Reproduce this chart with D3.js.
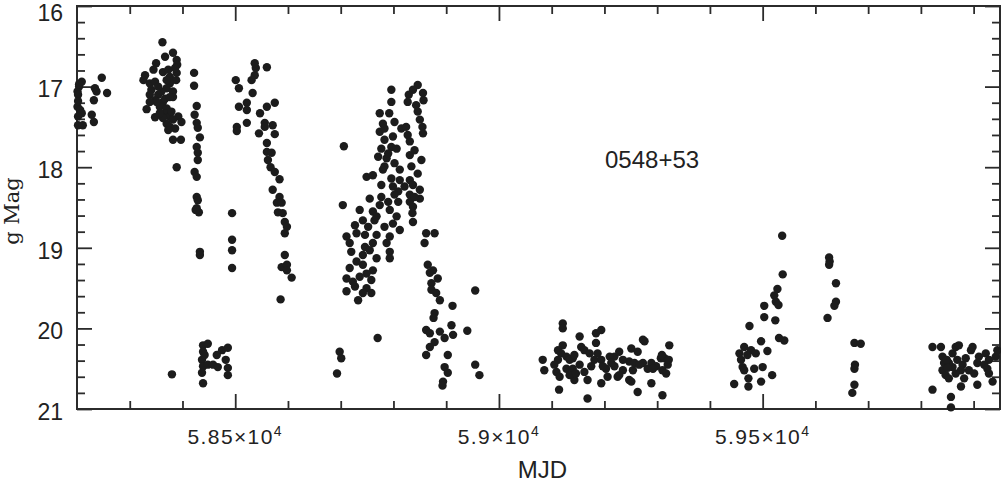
<!DOCTYPE html>
<html>
<head>
<meta charset="utf-8">
<script src="https://cdn.jsdelivr.net/npm/d3@7"></script>
<style>
  body { margin: 0; background: #fff; }
  svg { display: block; }
</style>
</head>
<body>
<div id="chart"></div>
<script>
// light curve of 0548+53, g band, grouped by observing season: [MJD, g mag]
const season1 = [[58209,16.94],[58204,17.00],[58201,17.06],[58202,17.10],[58201,17.25],[58206,17.29],[58209,17.33],[58202,17.37],[58202,17.48],[58211,17.48],[58228,17.35],[58232,17.44],[58234,17.02],[58237,17.06],[58232,17.17],[58247,16.89],[58257,17.08],[58204,16.97],[58202,17.18]];

const season2 = [[58362,16.45],[58367,16.63],[58382,16.58],[58389,16.67],[58390,16.73],[58350,16.71],[58345,16.79],[58363,16.82],[58329,16.86],[58326,16.92],[58338,16.96],[58348,16.94],[58376,16.88],[58389,16.83],[58388,16.92],[58376,16.96],[58370,17.02],[58341,17.04],[58338,17.10],[58354,17.10],[58382,17.06],[58382,17.13],[58348,17.17],[58363,17.19],[58332,17.28],[58357,17.25],[58370,17.27],[58348,17.38],[58367,17.33],[58376,17.37],[58392,17.37],[58398,17.44],[58370,17.46],[58376,17.50],[58386,17.52],[58373,17.54],[58382,17.66],[58397,17.66],[58389,18.00],[58382,17.41],[58363,17.39],[58360,17.06],[58373,16.79],[58386,16.77],[58354,17.00],[58367,17.15],
  [58351,17.19],[58376,17.13],[58370,16.92],[58379,17.31],[58357,17.33],[58338,17.19],
  [58422,16.83],[58422,16.99],[58427,17.24],[58423,17.35],[58427,17.45],[58429,17.51],[58433,17.63],[58427,17.75],[58429,17.82],[58429,17.91],[58423,18.06],[58427,18.12],[58427,18.37],[58429,18.41],[58427,18.51],[58431,18.56],[58425,18.53],[58433,19.05],[58433,19.09],
  [58439,20.21],[58439,20.29],[58437,20.39],[58439,20.47],[58437,20.55],[58439,20.68],[58448,20.19],[58442,20.33],[58448,20.45],[58458,20.45],[58467,20.48],[58465,20.33],[58475,20.27],[58486,20.24],[58482,20.39],[58486,20.49],[58486,20.58],[58380,20.57]];

const season3 = [[58501,16.92],[58507,17.02],[58522,17.20],[58507,17.25],[58522,17.29],[58522,17.45],[58503,17.50],[58503,17.55],[58533,17.08],[58531,16.92],[58537,16.86],[58539,16.77],[58537,16.71],[58560,16.76],[58547,17.33],[58545,17.58],[58560,17.25],[58575,17.20],[58556,17.45],[58571,17.48],[58575,17.59],[58556,17.50],[58560,17.70],[58560,17.81],[58569,17.82],[58562,17.91],[58567,18.00],[58575,18.06],[58584,18.15],[58571,18.28],[58584,18.37],[58579,18.44],[58588,18.44],[58581,18.56],[58590,18.57],[58594,18.68],[58598,18.74],[58594,18.82],[58594,19.09],[58588,19.24],[58598,19.21],[58598,19.28],[58607,19.37],[58586,19.64],[58494,18.57],[58494,18.90],[58494,19.03],[58494,19.25]];

const season4 = [[58846,16.98],[58837,17.04],[58856,17.08],[58857,17.17],[58829,17.10],[58827,17.19],[58843,17.23],[58846,17.31],[58850,17.41],[58855,17.50],[58856,17.58],[58796,17.04],[58796,17.19],[58792,17.33],[58780,17.46],[58802,17.44],[58815,17.52],[58827,17.60],[58831,17.68],[58774,17.56],[58783,17.66],[58799,17.62],[58777,17.77],[58796,17.75],[58806,17.77],[58706,17.74],[58831,17.85],[58853,17.91],[58771,17.87],[58787,17.89],[58783,17.99],[58812,18.03],[58834,17.99],[58846,18.08],[58749,18.12],[58761,18.10],[58796,18.14],[58831,18.16],[58777,18.22],[58799,18.24],[58837,18.22],[58850,18.28],[58809,18.30],[58831,18.34],[58755,18.39],[58790,18.43],[58850,18.39],[58809,18.43],[58774,18.47],[58704,18.47],[58831,18.43],[58761,18.55],[58793,18.53],[58837,18.49],[58806,18.61],[58836,18.57],[58742,18.66],[58727,18.72],[58764,18.66],[58799,18.70],[58752,18.74],[58783,18.74],[58812,18.78],[58837,18.68],[58730,18.82],[58711,18.86],[58746,18.84],[58768,18.84],[58793,18.86],[58862,18.82],[58878,18.82],[58859,18.94],[58720,19.05],[58746,18.99],[58761,18.94],[58787,18.94],[58793,19.05],[58742,19.09],[58768,19.13],[58793,19.13],[58717,19.25],[58742,19.21],[58761,19.28],[58865,19.21],[58875,19.28],[58711,19.38],[58736,19.36],[58758,19.40],[58884,19.38],[58872,19.44],[58727,19.48],[58749,19.50],[58711,19.54],[58733,19.65],[58758,19.56],[58872,19.52],[58881,19.56],[58888,19.65],
  [58774,17.33],[58783,17.52],[58790,17.83],[58780,18.03],[58802,17.95],[58812,18.16],[58802,18.34],[58821,18.24],[58777,18.37],[58736,18.53],[58768,18.61],[58717,18.94],[58755,19.03],[58730,19.17],[58749,19.32],[58723,19.42],[58742,19.56],[58824,17.50],[58840,17.79],[58840,18.37],
  [58869,19.31],[58912,19.72],[58878,19.81],[58876,19.87],[58862,20.02],[58869,20.06],[58888,20.04],[58910,19.96],[58913,20.08],[58897,20.12],[58940,20.03],[58878,20.17],[58869,20.23],[58862,20.33],[58903,20.33],[58897,20.48],[58903,20.55],[58894,20.66],[58893,20.71],[58955,19.53],[58955,20.45],[58963,20.58],[58770,20.12],[58698,20.29],[58701,20.37],[58693,20.56]];

const season5 = [[59083,20.39],[59086,20.52],[59121,19.94],[59121,20.00],[59121,20.21],[59118,20.31],[59112,20.39],[59109,20.54],[59115,20.60],[59114,20.76],[59128,20.35],[59128,20.50],[59140,20.37],[59140,20.50],[59143,20.64],[59153,20.10],[59156,20.23],[59162,20.27],[59153,20.45],[59162,20.54],[59168,20.64],[59168,20.87],[59184,20.06],[59184,20.18],[59187,20.31],[59181,20.39],[59175,20.47],[59194,20.39],[59203,20.50],[59194,20.68],[59206,20.60],[59219,20.35],[59228,20.29],[59219,20.47],[59225,20.60],[59235,20.52],[59251,20.25],[59263,20.29],[59247,20.41],[59254,20.52],[59247,20.64],[59263,20.79],[59276,20.16],[59273,20.43],[59282,20.50],[59289,20.68],[59298,20.47],[59307,20.37],[59310,20.52],[59310,20.83],[59323,20.21],[59112,20.27],[59105,20.45],[59134,20.58],[59146,20.56],[59210,20.35],[59213,20.43],[59235,20.39],[59257,20.43],[59266,20.45],[59289,20.43],[59317,20.56],[59194,20.02],[59134,20.39],[59143,20.33],[59172,20.31],[59197,20.47],[59228,20.58],[59251,20.66],[59273,20.14],[59292,20.50],[59314,20.37],[59320,20.45],[59309,20.33],[59322,20.39]];

const season6 = [[59446,20.69],[59456,20.31],[59465,20.23],[59459,20.39],[59462,20.48],[59473,20.62],[59473,20.72],[59478,20.27],[59475,19.97],[59487,20.31],[59484,20.50],[59497,20.16],[59500,20.48],[59497,20.66],[59503,19.72],[59503,19.86],[59509,20.28],[59518,20.58],[59522,19.59],[59528,19.51],[59525,19.67],[59530,19.71],[59524,19.90],[59538,19.33],[59531,20.12],[59541,20.15],[59471,20.33],[59465,20.52],[59537,18.85],
  [59626,19.12],[59627,19.17],[59626,19.21],[59639,19.44],[59639,19.67],[59636,19.72],[59623,19.87],
  [59674,20.18],[59686,20.19],[59675,20.45],[59674,20.50],[59674,20.70],[59670,20.80]];

const season7 = [[59822,20.23],[59822,20.76],[59838,20.23],[59841,20.35],[59844,20.43],[59841,20.52],[59847,20.58],[59853,20.62],[59857,20.85],[59857,20.98],[59860,20.31],[59866,20.23],[59872,20.21],[59869,20.39],[59879,20.45],[59876,20.52],[59866,20.56],[59860,20.48],[59876,20.72],[59895,20.27],[59898,20.23],[59910,20.35],[59907,20.43],[59901,20.56],[59891,20.52],[59907,20.70],[59923,20.31],[59929,20.39],[59926,20.50],[59929,20.56],[59936,20.66],[59942,20.35],[59945,20.27],[59853,20.43],[59885,20.37],[59849,20.39],[59851,20.49],[59882,20.62],[59920,20.45]];

const xMajor = [58500, 59000, 59500];
const xMajorMantissa = ["5.85", "5.9", "5.95"];
const xMinor = [58300, 58400, 58600, 58700, 58800, 58900, 59100, 59200, 59300, 59400, 59600, 59700, 59800, 59900];
const yMajor = [16, 17, 18, 19, 20, 21];
const yMinor = [16.2, 16.4, 16.6, 16.8, 17.2, 17.4, 17.6, 17.8, 18.2, 18.4, 18.6, 18.8, 19.2, 19.4, 19.6, 19.8, 20.2, 20.4, 20.6, 20.8];
const sourceName = "0548+53";

const width = 1001, height = 483;
const margin = { top: 6, right: 1, bottom: 74, left: 77 };
const plotW = width - margin.left - margin.right,
  plotH = height - margin.top - margin.bottom;

const svg = d3.select("#chart").append("svg")
  .attr("width", width)
  .attr("height", height);

const g = svg.append("g")
  .attr("transform", "translate(" + margin.left + "," + margin.top + ")");

const x = d3.scaleLinear().domain([58200, 59950]).range([0, plotW]);
const y = d3.scaleLinear().domain([16, 21]).range([0, plotH]);

const axisColor = "#2b2b2b";

// frame
g.append("rect")
  .attr("x", 0).attr("y", 0)
  .attr("width", plotW).attr("height", plotH)
  .attr("fill", "none")
  .attr("stroke", axisColor)
  .attr("stroke-width", 2);

function styleAxis(sel) {
  sel.select(".domain").remove();
  sel.selectAll(".tick line").attr("stroke", axisColor).attr("stroke-width", 1.8);
}

// x ticks, bottom and top, pointing inward
g.append("g").attr("transform", "translate(0," + plotH + ")")
  .call(d3.axisBottom(x).tickValues(xMinor).tickSize(-8).tickFormat(""))
  .call(styleAxis);
g.append("g").attr("transform", "translate(0," + plotH + ")")
  .call(d3.axisBottom(x).tickValues(xMajor).tickSize(-15).tickFormat(""))
  .call(styleAxis);
g.append("g")
  .call(d3.axisTop(x).tickValues(xMinor).tickSize(-8).tickFormat(""))
  .call(styleAxis);
g.append("g")
  .call(d3.axisTop(x).tickValues(xMajor).tickSize(-15).tickFormat(""))
  .call(styleAxis);

// y ticks, left and right
g.append("g")
  .call(d3.axisLeft(y).tickValues(yMinor).tickSize(-8).tickFormat(""))
  .call(styleAxis);
g.append("g")
  .attr("class", "y-axis")
  .call(d3.axisLeft(y).tickValues(yMajor).tickSize(-15).tickPadding(14).tickFormat(d3.format("d")))
  .call(styleAxis)
  .call(a => a.selectAll("text")
    .attr("fill", "#222")
    .attr("dy", (d) => d === 16 ? "0.62em" : "0.45em")
    .style("font-family", "'Liberation Sans', Arial, sans-serif")
    .style("font-size", "23px"));
g.append("g").attr("transform", "translate(" + plotW + ",0)")
  .call(d3.axisRight(y).tickValues(yMinor).tickSize(-8).tickFormat(""))
  .call(styleAxis);
g.append("g").attr("transform", "translate(" + plotW + ",0)")
  .call(d3.axisRight(y).tickValues(yMajor).tickSize(-15).tickFormat(""))
  .call(styleAxis);

// x tick labels as mantissa x 10^4
const xLab = g.selectAll(".x-lab")
  .data(xMajor)
  .enter()
  .append("text")
  .attr("class", "x-lab")
  .attr("x", d => x(d))
  .attr("y", plotH + 35)
  .attr("text-anchor", "middle")
  .attr("fill", "#222")
  .style("font-family", "'Liberation Sans', Arial, sans-serif")
  .style("font-size", "21px")
  .style("letter-spacing", "1.4px");
xLab.append("tspan").text((d, i) => xMajorMantissa[i] + "\u00d710");
xLab.append("tspan")
  .attr("dy", "-0.55em")
  .style("font-size", "14px")
  .text("4");

// axis titles
g.append("text")
  .attr("x", plotW / 2 + 4)
  .attr("y", plotH + 69)
  .attr("text-anchor", "middle")
  .attr("fill", "#222")
  .style("font-family", "'Liberation Sans', Arial, sans-serif")
  .style("font-size", "24px")
  .text("MJD");

g.append("text")
  .attr("transform", "rotate(-90)")
  .attr("x", -(211 - margin.top))
  .attr("y", -58)
  .attr("text-anchor", "middle")
  .attr("fill", "#222")
  .style("font-family", "'DejaVu Serif', serif")
  .style("font-size", "21px")
  .text("g Mag");

// source label
g.append("text")
  .attr("x", 605 - margin.left)
  .attr("y", 168 - margin.top)
  .attr("fill", "#222")
  .style("font-family", "'Liberation Sans', Arial, sans-serif")
  .style("font-size", "24px")
  .text(sourceName);

// points
const allPoints = [].concat(season1, season2, season3, season4, season5, season6, season7);
g.append("g")
  .selectAll("circle")
  .data(allPoints)
  .enter()
  .append("circle")
  .attr("cx", d => x(d[0]))
  .attr("cy", d => y(d[1]))
  .attr("r", 4.2)
  .attr("fill", "#1c1c1c");
</script>
</body>
</html>
